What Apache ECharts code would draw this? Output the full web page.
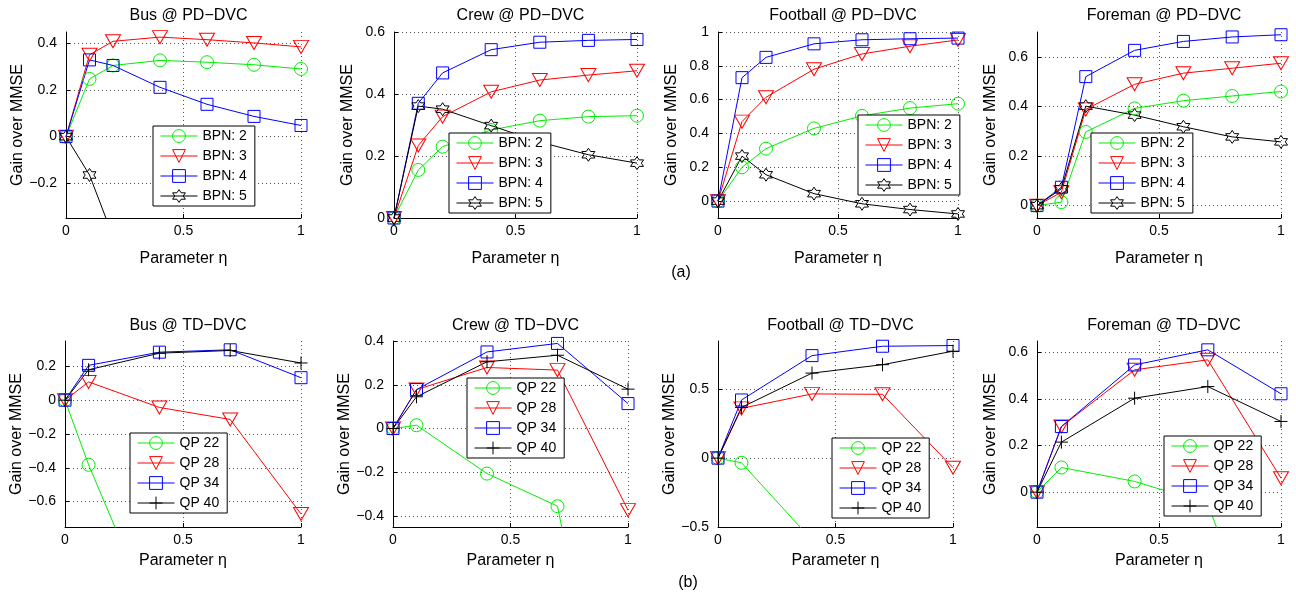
<!DOCTYPE html>
<html><head><meta charset="utf-8">
<script src="https://cdn.jsdelivr.net/npm/echarts@6/dist/echarts.min.js"></script>
<style>html,body{margin:0;background:#fff}#c{width:1296px;height:602px}</style>
</head><body><div id="c"></div>
<script>
// ---------- data ----------
const etaPD = [0, 0.1, 0.2, 0.4, 0.6, 0.8, 1];
const etaTD = [0, 0.1, 0.4, 0.7, 1];
const bpnNames = ['BPN: 2', 'BPN: 3', 'BPN: 4', 'BPN: 5'];
const qpNames = ['QP 22', 'QP 28', 'QP 34', 'QP 40'];
const xTicks = [0, 0.5, 1];

// Bus @ PD-DVC
const busPD2 = [0, 0.248, 0.306, 0.328, 0.32, 0.309, 0.291];
const busPD3 = [0, 0.352, 0.41, 0.428, 0.417, 0.403, 0.386];
const busPD4 = [0, 0.33, 0.306, 0.212, 0.139, 0.087, 0.048];
const busPD5 = [0, -0.165, -0.43, -0.85, -1.2, -1.5, -1.8];
// Crew @ PD-DVC
const crewPD2 = [0, 0.155, 0.23, 0.284, 0.314, 0.327, 0.33];
const crewPD3 = [0, 0.234, 0.327, 0.407, 0.445, 0.461, 0.475];
const crewPD4 = [0, 0.37, 0.468, 0.543, 0.567, 0.573, 0.576];
const crewPD5 = [0, 0.361, 0.351, 0.298, 0.245, 0.204, 0.177];
// Football @ PD-DVC
const footPD2 = [0, 0.2, 0.31, 0.43, 0.504, 0.55, 0.576];
const footPD3 = [0, 0.47, 0.614, 0.78, 0.87, 0.916, 0.953];
const footPD4 = [0, 0.73, 0.85, 0.93, 0.954, 0.96, 0.964];
const footPD5 = [0, 0.266, 0.156, 0.044, -0.016, -0.05, -0.076];
// Foreman @ PD-DVC
const forePD2 = [0, 0.014, 0.297, 0.392, 0.423, 0.442, 0.46];
const forePD3 = [0, 0.054, 0.388, 0.489, 0.534, 0.554, 0.574];
const forePD4 = [0, 0.074, 0.52, 0.626, 0.662, 0.68, 0.689];
const forePD5 = [0, 0.068, 0.401, 0.365, 0.318, 0.277, 0.257];

// Bus @ TD-DVC
const busTD22 = [0, -0.382, -1.37, -2.0, -2.5];
const busTD28 = [0, 0.108, -0.043, -0.114, -0.673];
const busTD34 = [0, 0.206, 0.284, 0.298, 0.133];
const busTD40 = [0, 0.18, 0.278, 0.294, 0.22];
// Crew @ TD-DVC
const crewTD22 = [0, 0.015, -0.206, -0.355, -1.94];
const crewTD28 = [0, 0.178, 0.279, 0.267, -0.373];
const crewTD34 = [0, 0.178, 0.35, 0.389, 0.114];
const crewTD40 = [0, 0.145, 0.305, 0.335, 0.18];
// Football @ TD-DVC
const footTD22 = [0, -0.034, -0.595, -1.2, -1.8];
const footTD28 = [0, 0.361, 0.466, 0.463, -0.07];
const footTD34 = [0, 0.422, 0.744, 0.812, 0.817];
const footTD40 = [0, 0.368, 0.617, 0.678, 0.776];
// Foreman @ TD-DVC
const foreTD22 = [0, 0.106, 0.046, -0.05, -0.9];
const foreTD28 = [0, 0.282, 0.526, 0.569, 0.06];
const foreTD34 = [0, 0.282, 0.547, 0.612, 0.423];
const foreTD40 = [0, 0.215, 0.404, 0.454, 0.304];

// y tick labels
const ticksBusPD = [-0.2, 0, 0.2, 0.4];
const ticksCrewPD = [0, 0.2, 0.4, 0.6];
const ticksFootPD = [0, 0.2, 0.4, 0.6, 0.8, 1];
const ticksForePD = [0, 0.2, 0.4, 0.6];
const ticksBusTD = [-0.6, -0.4, -0.2, 0, 0.2];
const ticksCrewTD = [-0.4, -0.2, 0, 0.2, 0.4];
const ticksFootTD = [-0.5, 0, 0.5];
const ticksForeTD = [0, 0.2, 0.4, 0.6];

const titles = ['Bus @ PD−DVC', 'Crew @ PD−DVC', 'Football @ PD−DVC', 'Foreman @ PD−DVC',
                'Bus @ TD−DVC', 'Crew @ TD−DVC', 'Football @ TD−DVC', 'Foreman @ TD−DVC'];

// ---------- panels built from the arrays ----------
const panels = [
  {x: etaPD, names: bpnNames, ys: [busPD2, busPD3, busPD4, busPD5], ticks: ticksBusPD, min: -0.35, max: 0.45},
  {x: etaPD, names: bpnNames, ys: [crewPD2, crewPD3, crewPD4, crewPD5], ticks: ticksCrewPD, min: 0, max: 0.6},
  {x: etaPD, names: bpnNames, ys: [footPD2, footPD3, footPD4, footPD5], ticks: ticksFootPD, min: -0.1, max: 1},
  {x: etaPD, names: bpnNames, ys: [forePD2, forePD3, forePD4, forePD5], ticks: ticksForePD, min: -0.05, max: 0.7},
  {x: etaTD, names: qpNames, ys: [busTD22, busTD28, busTD34, busTD40], ticks: ticksBusTD, min: -0.75, max: 0.35},
  {x: etaTD, names: qpNames, ys: [crewTD22, crewTD28, crewTD34, crewTD40], ticks: ticksCrewTD, min: -0.45, max: 0.4},
  {x: etaTD, names: qpNames, ys: [footTD22, footTD28, footTD34, footTD40], ticks: ticksFootTD, min: -0.5, max: 0.85},
  {x: etaTD, names: qpNames, ys: [foreTD22, foreTD28, foreTD34, foreTD40], ticks: ticksForeTD, min: -0.15, max: 0.65}
];

// ---------- layout / style ----------
const gridBoxes = [
  [66, 32, 235, 186], [394, 32, 243, 186], [718, 32, 240, 186], [1037, 32, 244, 186],
  [65, 341, 236, 186], [393, 341, 235, 186], [718, 341, 235, 186], [1037, 341, 244, 186]
];
const legendPos = [
  [153, 126], [449, 133], [858, 115], [1091, 133],
  [130, 433], [467, 378], [832, 438], [1164, 436]
];
const FONT = "'Liberation Sans', Arial, Helvetica, sans-serif";
const colors = ['#00ee00', '#ff0000', '#0000ff', '#000000'];
const hexagram = 'path://M10,0 L12.89,5 L18.66,5 L15.77,10 L18.66,15 L12.89,15 L10,20 L7.11,15 L1.34,15 L4.23,10 L1.34,5 L7.11,5 Z';
const triDown = 'path://M0,0 L10,0 L5,8.66 Z';
const plus = 'path://M5,0 L5,10 M0,5 L10,5';
const symPD = [['circle', 13], [triDown, [15, 13]], ['rect', 12], [hexagram, 13]];
const symTD = [['circle', 13], [triDown, [15, 13]], ['rect', 12], [plus, 13]];
const fmt = v => (v < 0 ? '−' + Math.abs(v) : String(v));

const grid = [], xAxis = [], yAxis = [], series = [], legend = [], title = [];
panels.forEach((p, i) => {
  const [l, t, w, h] = gridBoxes[i];
  const row2 = i >= 4;
  grid.push({left: l, top: t, width: w, height: h, containLabel: false});
  title.push({text: titles[i], left: l + w / 2, top: row2 ? 313 : 3, textAlign: 'center',
    textStyle: {fontFamily: FONT, fontSize: 16, fontWeight: 'normal', color: '#000'}});
  xAxis.push({
    gridIndex: i, type: 'value', min: 0, max: 1, interval: 0.5,
    axisLine: {show: true, onZero: false, lineStyle: {color: '#000', width: 1}},
    axisTick: {show: true, inside: true, length: 4, customValues: xTicks, lineStyle: {color: '#000'}},
    axisLabel: {customValues: xTicks, formatter: fmt, color: '#000', fontSize: 14, fontFamily: FONT, margin: 6},
    splitLine: {show: true, lineStyle: {color: '#555', type: [1, 3], width: 1}},
    name: 'Parameter η', nameLocation: 'middle', nameGap: row2 ? 26 : 33,
    nameTextStyle: {fontFamily: FONT, fontSize: 16, color: '#000'}
  });
  yAxis.push({
    gridIndex: i, type: 'value', min: p.min, max: p.max,
    axisLine: {show: true, onZero: false, lineStyle: {color: '#000', width: 1}},
    axisTick: {show: true, inside: true, length: 4, customValues: p.ticks, lineStyle: {color: '#000'}},
    axisLabel: {customValues: p.ticks, formatter: fmt, color: '#000', fontSize: 14, fontFamily: FONT, margin: 9},
    splitLine: {show: true, lineStyle: {color: '#555', type: [1, 3], width: 1}},
    name: 'Gain over MMSE', nameLocation: 'middle', nameGap: 38,
    nameTextStyle: {fontFamily: FONT, fontSize: 16, color: '#000'}
  });
  const syms = row2 ? symTD : symPD;
  p.ys.forEach((ys, k) => {
    series.push({
      type: 'line', name: p.names[k], xAxisIndex: i, yAxisIndex: i,
      data: p.x.map((xv, j) => [xv, ys[j]]),
      symbol: syms[k][0], symbolSize: syms[k][1], showAllSymbol: true,
      lineStyle: {color: colors[k], width: 1},
      itemStyle: {color: 'rgba(0,0,0,0)', borderColor: colors[k], borderWidth: 1},
      emphasis: {disabled: true}, animation: false, clip: true, z: 2
    });
  });
  legend.push({
    data: p.names, orient: 'vertical', left: legendPos[i][0], top: legendPos[i][1],
    itemWidth: 37, itemHeight: 16, itemGap: 6, padding: [3, 8, 3, 7], z: 20,
    backgroundColor: '#fff', borderColor: '#000', borderWidth: 1, borderRadius: 0,
    selectedMode: false,
    lineStyle: {width: 1},
    itemStyle: {borderWidth: 1},
    textStyle: {fontFamily: FONT, fontSize: 14, color: '#000'}
  });
});
title.push({text: '(a)', left: 676, top: 260, textAlign: 'center',
  textStyle: {fontFamily: FONT, fontSize: 16, fontWeight: 'normal', color: '#000'}});
title.push({text: '(b)', left: 683, top: 570, textAlign: 'center',
  textStyle: {fontFamily: FONT, fontSize: 16, fontWeight: 'normal', color: '#000'}});

const chart = echarts.init(document.getElementById('c'), null, {renderer: 'canvas'});
chart.setOption({animation: false, backgroundColor: '#fff', title, grid, xAxis, yAxis, legend, series});
</script></body></html>
